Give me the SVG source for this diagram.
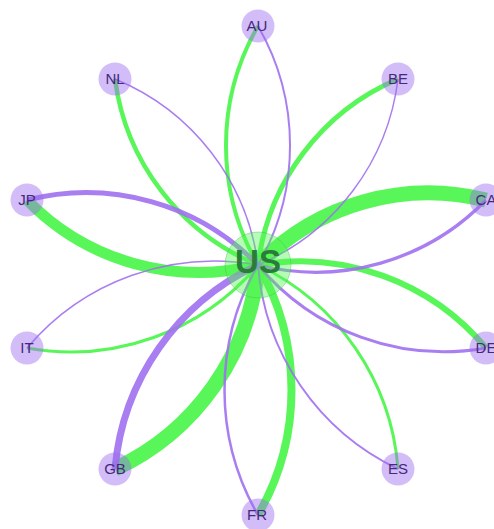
<svg xmlns="http://www.w3.org/2000/svg" width="494" height="529" viewBox="0 0 494 529">
<style>
.g{fill:none;stroke:#50f550;stroke-opacity:0.95}
.p{fill:none;stroke:#a070f0;stroke-opacity:0.9}
.n{fill:#9b6cf0;fill-opacity:0.45}
.l{font-family:"Liberation Sans",Arial,sans-serif;font-size:15px;fill:#45287a;text-anchor:middle}
.us{fill:#50f550;fill-opacity:0.42;stroke:#3cb44b;stroke-opacity:0.35;stroke-width:1}
.ul{font-family:"Liberation Sans",Arial,sans-serif;font-size:33px;font-weight:bold;fill:#2a7d38;text-anchor:middle}
</style>
<rect width="494" height="529" fill="#ffffff"/>
<g id="connectors">
<path class="g" stroke-width="4" d="M258,265 A239,239 0 0 1 258,26"/>
<path class="g" stroke-width="5" d="M258,265 A233,233 0 0 1 398,79"/>
<path class="g" stroke-width="15" d="M258,265 A237,237 0 0 1 486,200"/>
<path class="g" stroke-width="6" d="M258,265 A242,242 0 0 1 486,348"/>
<path class="g" stroke-width="3" d="M258,265 A247,247 0 0 1 398,469"/>
<path class="g" stroke-width="8" d="M258,265 A250,250 0 0 1 258,515"/>
<path class="g" stroke-width="15" d="M258,265 A249,249 0 0 1 115,469"/>
<path class="g" stroke-width="3" d="M258,265 A245,245 0 0 1 27,348"/>
<path class="g" stroke-width="11" d="M258,265 A240,240 0 0 1 27,200"/>
<path class="g" stroke-width="4.5" d="M258,265 A234,234 0 0 1 115,79"/>
<path class="p" stroke-width="2" d="M258,26 A239,239 0 0 1 258,265"/>
<path class="p" stroke-width="1.5" d="M398,79 A233,233 0 0 1 258,265"/>
<path class="p" stroke-width="3.3" d="M486,200 A237,237 0 0 1 258,265"/>
<path class="p" stroke-width="3" d="M486,348 A242,242 0 0 1 258,265"/>
<path class="p" stroke-width="2" d="M398,469 A247,247 0 0 1 258,265"/>
<path class="p" stroke-width="2.5" d="M258,515 A250,250 0 0 1 258,265"/>
<path class="p" stroke-width="7" d="M115,469 A249,249 0 0 1 258,265"/>
<path class="p" stroke-width="1.5" d="M27,348 A245,245 0 0 1 258,265"/>
<path class="p" stroke-width="5" d="M27,200 A240,240 0 0 1 258,265"/>
<path class="p" stroke-width="1.5" d="M115,79 A234,234 0 0 1 258,265"/>
</g>
<g id="node-AU"><circle class="n" cx="258" cy="26" r="16.5"/><text class="l" x="257" y="31">AU</text></g>
<g id="node-BE"><circle class="n" cx="398" cy="79" r="16.5"/><text class="l" x="398" y="84">BE</text></g>
<g id="node-CA"><circle class="n" cx="486" cy="200" r="16.5"/><text class="l" x="486" y="205">CA</text></g>
<g id="node-DE"><circle class="n" cx="486" cy="348" r="16.5"/><text class="l" x="486" y="353">DE</text></g>
<g id="node-ES"><circle class="n" cx="398" cy="469" r="16.5"/><text class="l" x="398" y="474">ES</text></g>
<g id="node-FR"><circle class="n" cx="258" cy="515" r="16.5"/><text class="l" x="257" y="520">FR</text></g>
<g id="node-GB"><circle class="n" cx="115" cy="469" r="16.5"/><text class="l" x="115" y="474">GB</text></g>
<g id="node-IT"><circle class="n" cx="27" cy="348" r="16.5"/><text class="l" x="27" y="353">IT</text></g>
<g id="node-JP"><circle class="n" cx="27" cy="200" r="16.5"/><text class="l" x="27" y="205">JP</text></g>
<g id="node-NL"><circle class="n" cx="115" cy="79" r="16.5"/><text class="l" x="115" y="84">NL</text></g>
<g id="node-US"><circle class="us" cx="258" cy="265" r="33"/><text class="ul" x="258" y="273">US</text></g>
</svg>
